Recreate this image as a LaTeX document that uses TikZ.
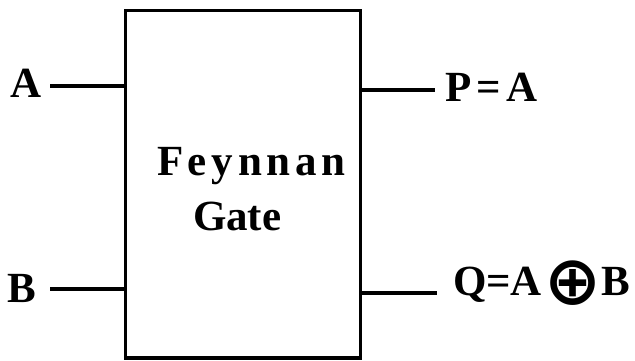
\documentclass[tikz,border=0pt]{standalone}
\usepackage{fontspec}
\setmainfont{Liberation Serif}[BoldFont={Liberation Serif Bold}]
\newfontfamily\symfont{DejaVu Sans}
\begin{document}
\begin{tikzpicture}[x=1pt,y=-1pt,
  wire/.style={line width=3.5pt},
  gatebox/.style={draw, line width=3.5pt, inner sep=0pt, outer sep=0pt, minimum width=235pt, minimum height=347.5pt, anchor=north west},
  lbl/.style={font=\fontsize{43}{43}\selectfont\bfseries, anchor=base west, inner sep=0pt, outer sep=0pt}]
\useasboundingbox[fill=white] (0,0) rectangle (635,361);
\node[gatebox] (gate) at (125.5,10.5) {};
\coordinate (a) at (50,86);
\coordinate (b) at (50,289);
\coordinate (p) at (435,90);
\coordinate (q) at (437,293);
\draw[wire] (a) -- (a -| gate.west);
\draw[wire] (b) -- (b -| gate.west);
\draw[wire] (gate.east |- p) -- (p);
\draw[wire] (gate.east |- q) -- (q);
\node[lbl] (la) at (10,98) {A};
\node[lbl] (lb) at (8,302) {B};
\node[lbl] (lp) at (445,102) {\addfontfeature{LetterSpace=12}P=A};
\node[lbl] (lq) at (453,295) {Q=A\hspace{2pt}\raisebox{-9pt}{\symfont\fontsize{68}{68}\selectfont ⊕}\hspace{1pt}B};
\node[lbl] (l1) at (157,175) {\addfontfeature{LetterSpace=11}Feynnan};
\node[lbl] (l2) at (193,230) {Gate};
\end{tikzpicture}
\end{document}
